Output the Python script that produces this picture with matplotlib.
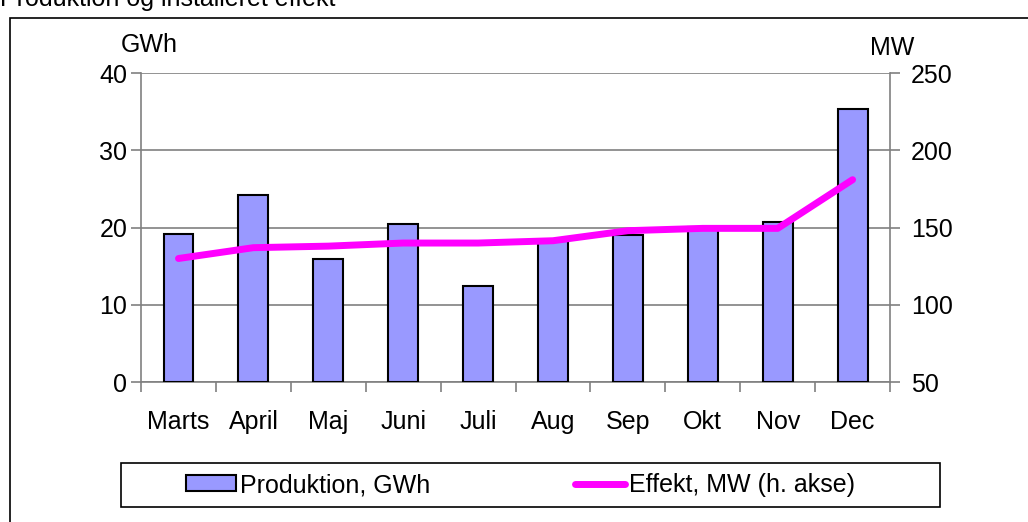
import matplotlib
matplotlib.use("Agg")
import matplotlib.pyplot as plt
from matplotlib.patches import Rectangle
import numpy as np

plt.rcParams['font.family'] = ['Liberation Sans', 'DejaVu Sans']

# data
maaneder = ['Marts', 'April', 'Maj', 'Juni', 'Juli', 'Aug', 'Sep', 'Okt', 'Nov', 'Dec']
produktion_gwh = [19.2, 24.2, 15.9, 20.5, 12.5, 18.2, 19.0, 20.1, 20.7, 35.4]
effekt_mw = [130, 137, 138, 140, 140, 141.5, 148, 149.5, 149.5, 181]

FS = 18

fig = plt.figure(figsize=(10.28, 5.22), dpi=100)
ax = fig.add_axes([0.1372, 0.268, 0.7286, 0.592])
ax2 = ax.twinx()

x = np.arange(len(maaneder))
ax.bar(x, produktion_gwh, width=0.4, color='#9999FF', edgecolor='black',
       linewidth=1.5, label='Produktion, GWh', zorder=3)
ax2.plot(x, effekt_mw, color='#FF00FF', linewidth=5, solid_capstyle='round',
         label='Effekt, MW (h. akse)', zorder=4)

ax.set_xlim(-0.5, len(maaneder) - 0.5)
ax.set_ylim(0, 40)
ax.set_yticks([0, 10, 20, 30, 40])
ax2.set_ylim(50, 250)
ax2.set_yticks([50, 100, 150, 200, 250])

ax.yaxis.grid(True, color='#808080', linewidth=1.2, zorder=0)
ax.set_axisbelow(True)

# tick marks between categories, labels in the middle
ax.set_xticks(np.arange(len(maaneder) + 1) - 0.5)
ax.set_xticklabels([])
ax.set_xticks(x, minor=True)
ax.set_xticklabels(maaneder, minor=True)
ax.tick_params(axis='x', which='minor', length=0, pad=20, labelsize=FS)
ax.tick_params(axis='x', which='major', length=7, color='#808080', width=1.2)
ax.tick_params(axis='y', length=7, color='#808080', width=1.2, labelsize=FS, pad=3)
ax2.tick_params(axis='y', length=7, color='#808080', width=1.2, labelsize=FS, pad=8)

for a in (ax, ax2):
    a.spines['top'].set_visible(False)
    for s in ('left', 'right', 'bottom'):
        a.spines[s].set_color('#808080')
        a.spines[s].set_linewidth(1.2)
ax.spines['right'].set_visible(False)
ax2.spines['left'].set_visible(False)
ax2.spines['bottom'].set_visible(False)

fig.text(0.117, 0.913, 'GWh', fontsize=FS, ha='left', va='center')
fig.text(0.846, 0.909, 'MW', fontsize=FS, ha='left', va='center')
fig.text(0.0, 0.9885, 'Produktion og installeret effekt', fontsize=FS,
         ha='left', va='baseline')

# outer chart border
fig.patches.append(Rectangle((0.0097, -0.05), 1.1, 1.0155, transform=fig.transFigure,
                             fill=False, edgecolor='black', linewidth=1.2))

# legend frame and the two entries
fig.patches.append(Rectangle((121 / 1028, 1 - 507 / 522), 819 / 1028, 44 / 522,
                             transform=fig.transFigure, fill=False,
                             edgecolor='black', linewidth=1.2))
h1, l1 = ax.get_legend_handles_labels()
h2, l2 = ax2.get_legend_handles_labels()
for h, l, xpos in ((h1, l1, 186 / 1028), (h2, l2, 575 / 1028)):
    fig.legend(h, l, loc='center left', bbox_to_anchor=(xpos, 1 - 485 / 522),
               fontsize=FS, frameon=False, borderpad=0, borderaxespad=0,
               handlelength=2.0, handleheight=0.6, handletextpad=0.15)

fig.savefig('out.png', dpi=100)
